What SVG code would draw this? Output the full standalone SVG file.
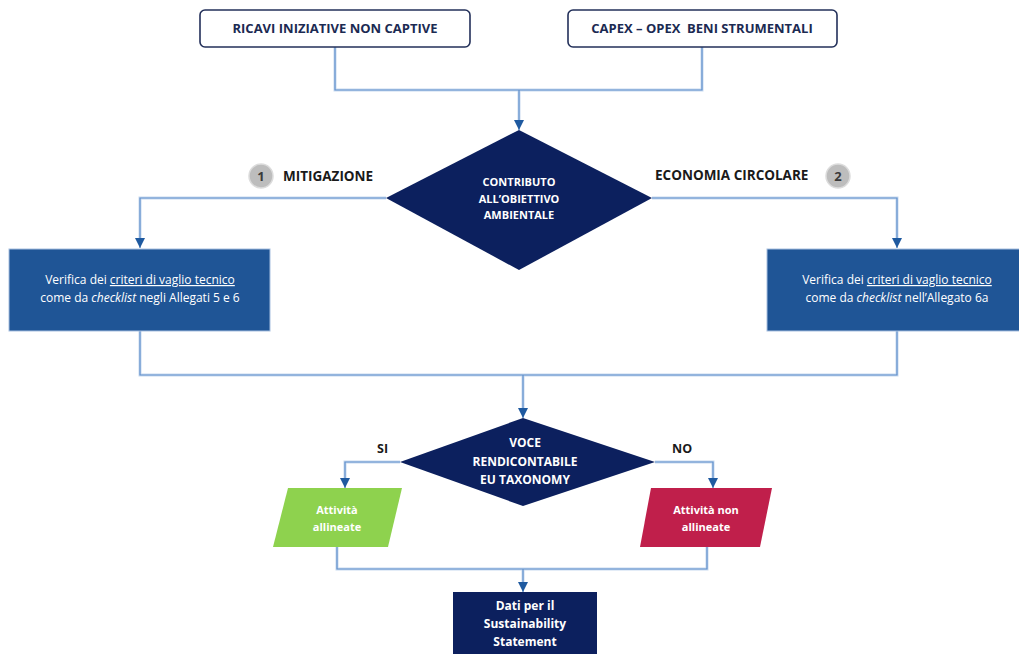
<svg xmlns="http://www.w3.org/2000/svg" xmlns:xlink="http://www.w3.org/1999/xlink" width="1019" height="654" viewBox="0 0 1019 654">
<style>
text{font-family:"Open Sans","Liberation Sans",sans-serif;font-weight:bold;}
.w{fill:#ffffff;font-size:11px;text-anchor:middle;}
.w12{fill:#ffffff;font-size:12px;text-anchor:middle;}
.wn{fill:#ffffff;font-size:12px;text-anchor:middle;font-weight:normal;}
.top{fill:#1b2a52;font-size:13px;text-anchor:middle;}
.lab{fill:#1a1a1a;font-size:13.5px;}
.lab12{fill:#1a1a1a;font-size:12.5px;}
.box{fill:#ffffff;stroke:#23305a;stroke-width:1.6;}
.under{fill:none;stroke:#c8d9ef;stroke-width:3;}
.line{fill:none;stroke:#5f8fcb;stroke-width:1.2;}
.num{fill:#3a3a3a;font-size:13px;text-anchor:middle;}
</style>
<defs>
<marker id="arr" viewBox="0 0 10 10" refX="10" refY="5" markerWidth="10" markerHeight="10" markerUnits="userSpaceOnUse" orient="auto">
<path d="M0,0 L10,5 L0,10 z" fill="#1f5aa0"/>
</marker>
</defs>
<g id="connectors">
<g class="under">
<path d="M335,47 V90 H702 V47"/>
<path d="M519,90 V126"/>
<path d="M386,198 H140 V244"/>
<path d="M652,198 H897 V244"/>
<path d="M140,331 V375 H897 V331"/>
<path d="M523,375 V414"/>
<path d="M400,462 H345 V484"/>
<path d="M655,462 H713 V484"/>
<path d="M337,547 V569 H707 V547"/>
<path d="M523,569 V588"/>
</g>
<g class="line">
<path d="M335,47 V90 H702 V47"/>
<path d="M519,90 V130" marker-end="url(#arr)"/>
<path d="M386,198 H140 V248" marker-end="url(#arr)"/>
<path d="M652,198 H897 V248" marker-end="url(#arr)"/>
<path d="M140,331 V375 H897 V331"/>
<path d="M523,375 V418" marker-end="url(#arr)"/>
<path d="M400,462 H345 V488" marker-end="url(#arr)"/>
<path d="M655,462 H713 V488" marker-end="url(#arr)"/>
<path d="M337,547 V569 H707 V547"/>
<path d="M523,569 V592" marker-end="url(#arr)"/>
</g>
</g>
<g id="ricavi">
<rect class="box" x="200" y="10" width="270" height="37" rx="5"/>
<text class="top" x="335" y="33">RICAVI INIZIATIVE NON CAPTIVE</text>
</g>
<g id="capex">
<rect class="box" x="568" y="10" width="269" height="37" rx="5"/>
<text class="top" x="702" y="33" xml:space="preserve">CAPEX – OPEX  BENI STRUMENTALI</text>
</g>
<g id="contributo">
<polygon points="519,130 652,198 519,270 386,198" fill="#0c205e"/>
<text class="w" x="519" y="186">CONTRIBUTO</text>
<text class="w" x="519" y="203">ALL’OBIETTIVO</text>
<text class="w" x="519" y="219">AMBIENTALE</text>
</g>
<g id="label-mitigazione">
<circle cx="261" cy="176" r="12" fill="#bdbdbd" stroke="#dcdcdc" stroke-width="1.5"/>
<text class="num" x="261" y="181">1</text>
<text class="lab" x="283" y="181">MITIGAZIONE</text>
</g>
<g id="label-economia">
<text class="lab" x="655" y="180">ECONOMIA CIRCOLARE</text>
<circle cx="838" cy="176" r="12" fill="#bdbdbd" stroke="#dcdcdc" stroke-width="1.5"/>
<text class="num" x="838" y="181">2</text>
</g>
<g id="verifica-1">
<rect x="9" y="249" width="261" height="82" fill="#1f5596" stroke="#a8c0e0" stroke-width="1"/>
<text class="wn" x="140" y="284">Verifica dei <tspan text-decoration="underline">criteri di vaglio tecnico</tspan></text>
<text class="wn" x="140" y="302">come da <tspan font-style="italic">checklist</tspan> negli Allegati 5 e 6</text>
</g>
<g id="verifica-2">
<rect x="767" y="249" width="258" height="82" fill="#1f5596" stroke="#a8c0e0" stroke-width="1"/>
<text class="wn" x="897" y="284">Verifica dei <tspan text-decoration="underline">criteri di vaglio tecnico</tspan></text>
<text class="wn" x="897" y="302">come da <tspan font-style="italic">checklist</tspan> nell’Allegato 6a</text>
</g>
<g id="voce">
<polygon points="523,418 655,462 523,506 400,462" fill="#0c205e"/>
<text class="w12" x="525" y="447">VOCE</text>
<text class="w12" x="525" y="466">RENDICONTABILE</text>
<text class="w12" x="525" y="484">EU TAXONOMY</text>
</g>
<g id="label-si">
<text class="lab12" x="377" y="453">SI</text>
</g>
<g id="label-no">
<text class="lab12" x="672" y="453">NO</text>
</g>
<g id="allineate">
<polygon points="288,488 402,488 388,547 273,547" fill="#8ed24e"/>
<text class="w" x="337" y="514">Attività</text>
<text class="w" x="337" y="531">allineate</text>
</g>
<g id="non-allineate">
<polygon points="651,488 772,488 760,547 640,547" fill="#c01f4b"/>
<text class="w" x="706" y="514">Attività non</text>
<text class="w" x="706" y="531">allineate</text>
</g>
<g id="dati">
<rect x="453" y="592" width="144" height="64" fill="#0c205e"/>
<text class="w12" x="525" y="610">Dati per il</text>
<text class="w12" x="525" y="628">Sustainability</text>
<text class="w12" x="525" y="646">Statement</text>
</g>
</svg>
